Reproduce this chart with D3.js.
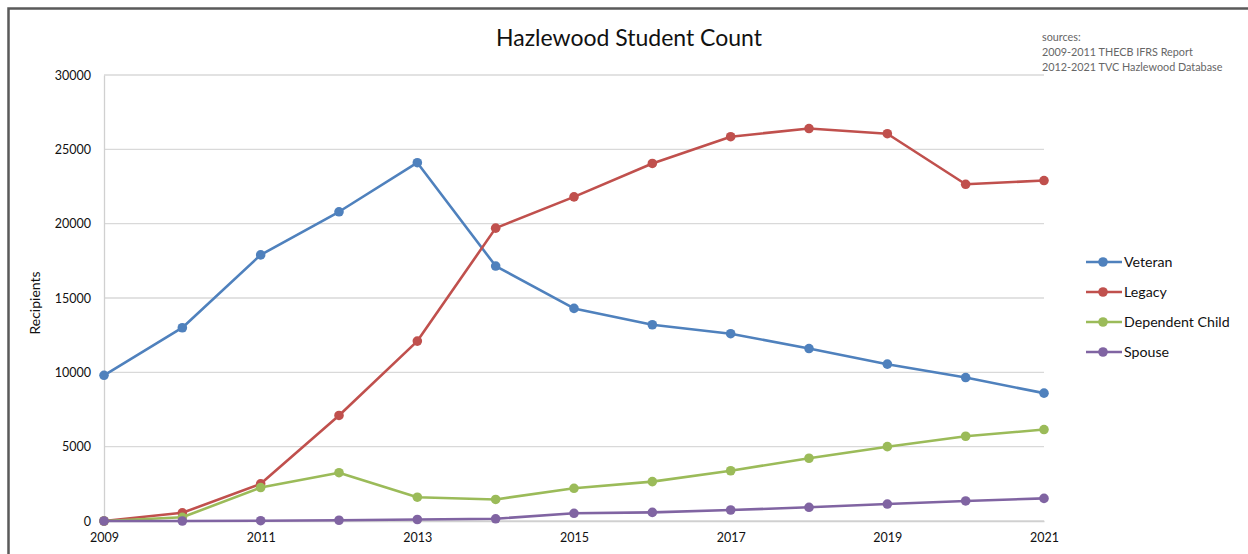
<!DOCTYPE html>
<html>
<head>
<meta charset="utf-8">
<script src="https://cdn.jsdelivr.net/npm/d3@7"></script>
<style>
  html, body { margin: 0; padding: 0; background: #ffffff; }
  svg { display: block; }
</style>
</head>
<body>
<svg id="chart" width="1248" height="554"></svg>
<script>
// Hazlewood recipients by benefit type, 2009-2021
const years = [2009, 2010, 2011, 2012, 2013, 2014, 2015, 2016, 2017, 2018, 2019, 2020, 2021];
const veteran = [9800, 13000, 17900, 20800, 24100, 17150, 14300, 13200, 12600, 11600, 10550, 9650, 8600];
const legacy = [0, 550, 2500, 7100, 12100, 19700, 21800, 24050, 25850, 26400, 26050, 22650, 22900];
const dependentChild = [0, 250, 2250, 3250, 1600, 1450, 2200, 2650, 3380, 4220, 5000, 5700, 6150];
const spouse = [0, 0, 20, 50, 100, 150, 520, 580, 740, 920, 1140, 1350, 1520];
const seriesNames = ["Veteran", "Legacy", "Dependent Child", "Spouse"];
const seriesColors = ["#4f81bd", "#c0504d", "#9bbb59", "#8064a2"];
const yTicks = [0, 5000, 10000, 15000, 20000, 25000, 30000];
const xTicks = [2009, 2011, 2013, 2015, 2017, 2019, 2021];
const sourceLines = ["sources:", "2009-2011 THECB IFRS Report", "2012-2021 TVC Hazlewood Database"];

const series = [veteran, legacy, dependentChild, spouse].map((vals, i) => ({
  name: seriesNames[i],
  color: seriesColors[i],
  values: vals.map((v, j) => ({ year: years[j], value: v }))
}));

const svg = d3.select("#chart");
const font = "Lato, 'Open Sans', sans-serif";

// outer frame
svg.append("path")
  .attr("d", "M8.5,560 L8.5,8.5 L1260,8.5")
  .attr("fill", "none")
  .attr("stroke", "#5a5a5a")
  .attr("stroke-width", 2.5);

const x = d3.scaleLinear().domain([2009, 2021]).range([104, 1044]);
const y = d3.scaleLinear().domain([0, 30000]).range([521, 75]);

// horizontal gridlines
svg.append("g")
  .selectAll("line")
  .data(yTicks)
  .join("line")
  .attr("x1", x(2009)).attr("x2", x(2021))
  .attr("y1", d => y(d)).attr("y2", d => y(d))
  .attr("stroke", "#d9d9d9")
  .attr("stroke-width", 1.3);

// y axis
const yAxis = svg.append("g")
  .attr("transform", `translate(${x(2009)},0)`)
  .call(d3.axisLeft(y).tickValues(yTicks).tickSize(0).tickPadding(13).tickFormat(d3.format("d")));
yAxis.select(".domain").attr("stroke", "#d0d0d0").attr("stroke-width", 1.3);
yAxis.selectAll("text")
  .attr("font-family", font)
  .attr("font-size", 12.5)
  .attr("fill", "#111");

// x axis
const xAxis = svg.append("g")
  .attr("transform", `translate(0,${y(0)})`)
  .call(d3.axisBottom(x).tickValues(xTicks).tickSize(0).tickPadding(12).tickFormat(d3.format("d")));
xAxis.select(".domain").attr("stroke", "#d0d0d0").attr("stroke-width", 1.3);
xAxis.selectAll("text")
  .attr("font-family", font)
  .attr("font-size", 12.5)
  .attr("fill", "#111");

// axis title
svg.append("text")
  .attr("transform", `translate(40,${(y(0) + y(30000)) / 2 + 5}) rotate(-90)`)
  .attr("text-anchor", "middle")
  .attr("font-family", font)
  .attr("font-size", 14)
  .attr("fill", "#111")
  .text("Recipients");

// chart title
svg.append("text")
  .attr("x", 629)
  .attr("y", 46)
  .attr("text-anchor", "middle")
  .attr("font-family", font)
  .attr("font-size", 23)
  .attr("fill", "#111")
  .text("Hazlewood Student Count");

// source notes
svg.append("g")
  .selectAll("text")
  .data(sourceLines)
  .join("text")
  .attr("x", 1042)
  .attr("y", (d, i) => 40.5 + i * 15)
  .attr("font-family", font)
  .attr("font-size", 10.8)
  .attr("fill", "#666")
  .text(d => d);

// series lines and markers
const line = d3.line().x(d => x(d.year)).y(d => y(d.value));
const plot = svg.append("g");
series.forEach(s => {
  plot.append("path")
    .datum(s.values)
    .attr("d", line)
    .attr("fill", "none")
    .attr("stroke", s.color)
    .attr("stroke-width", 2.6)
    .attr("stroke-linejoin", "round");
  plot.append("g")
    .selectAll("circle")
    .data(s.values)
    .join("circle")
    .attr("cx", d => x(d.year))
    .attr("cy", d => y(d.value))
    .attr("r", 4.8)
    .attr("fill", s.color);
});

// legend
const legend = svg.append("g").attr("transform", "translate(1086,262)");
series.forEach((s, i) => {
  const g = legend.append("g").attr("transform", `translate(0,${i * 30})`);
  g.append("line").attr("x1", 0).attr("x2", 36).attr("y1", 0).attr("y2", 0)
    .attr("stroke", s.color).attr("stroke-width", 2.6);
  g.append("circle").attr("cx", 17).attr("cy", 0).attr("r", 4.8).attr("fill", s.color);
  g.append("text").attr("x", 38).attr("y", 0).attr("dy", "0.35em")
    .attr("font-family", font).attr("font-size", 14.2).attr("fill", "#111")
    .text(s.name);
});
</script>
</body>
</html>
